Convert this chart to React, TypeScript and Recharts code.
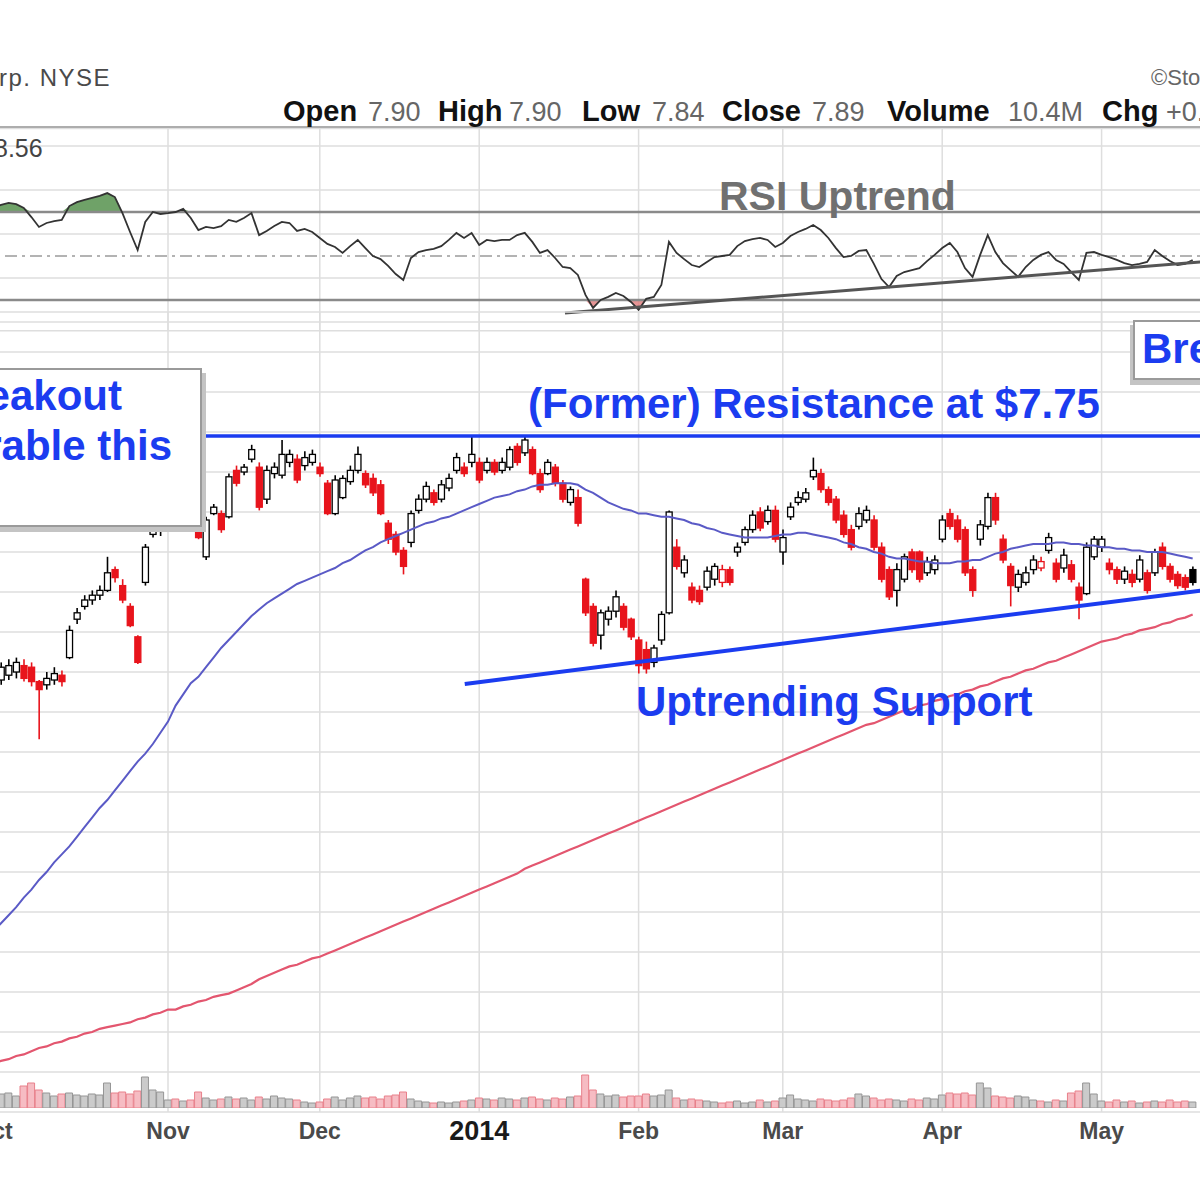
import React from "react";
import {
  ComposedChart,
  Bar,
  Line,
  Area,
  XAxis,
  YAxis,
  CartesianGrid,
  ReferenceLine,
  Cell,
} from "recharts";

// trading days, Oct 1 2013 .. May 19 2014 (index = day number)
const MONTH_TICKS = [0, 23, 43, 64, 85, 104, 125, 146];
const MONTH_LABELS = ["Oct", "Nov", "Dec", "2014", "Feb", "Mar", "Apr", "May"];
const PRICE_GRID = [3.75, 4, 4.25, 4.5, 4.75, 5, 5.25, 5.5, 5.75, 6, 6.25, 6.5, 6.75, 7, 7.25, 7.5, 7.75, 8, 8.25];
const RSI_GRID = [20, 40, 60, 80, 90, 100];

const OPEN = [
  6.19, 6.2, 6.23, 6.25, 6.29, 6.28, 6.19, 6.17, 6.2, 6.23,
  6.34, 6.58, 6.66, 6.7, 6.73, 6.76, 6.89, 6.79, 6.66, 6.47,
  6.81, 7.11, 7.13, 7.17, 7.26, 7.23, 7.21, 7.14, 6.97, 7.24,
  7.24, 7.22, 7.51, 7.5, 7.58, 7.53, 7.33, 7.49, 7.48, 7.56,
  7.58, 7.54, 7.56, 7.53, 7.43, 7.24, 7.34, 7.44, 7.51, 7.49,
  7.46, 7.42, 7.18, 7.11, 7.01, 7.06, 7.26, 7.33, 7.37, 7.33,
  7.4, 7.51, 7.53, 7.56, 7.56, 7.51, 7.56, 7.51, 7.53, 7.66,
  7.62, 7.64, 7.49, 7.49, 7.53, 7.43, 7.31, 7.34, 6.83, 6.66,
  6.48, 6.58, 6.63, 6.66, 6.58, 6.45, 6.39, 6.31, 6.45, 6.62,
  7.03, 6.87, 6.78, 6.76, 6.78, 6.83, 6.81, 6.89, 7.0, 7.06,
  7.14, 7.25, 7.19, 7.26, 7.0, 7.22, 7.31, 7.33, 7.47, 7.49,
  7.39, 7.33, 7.23, 7.14, 7.16, 7.2, 7.2, 7.03, 6.89, 6.76,
  6.83, 7.0, 7.0, 6.87, 6.89, 7.08, 7.24, 7.2, 7.14, 6.89,
  7.08, 7.16, 7.34, 7.08, 6.91, 6.78, 6.81, 6.89, 6.9, 7.01,
  6.93, 6.9, 6.92, 6.78, 6.74, 6.97, 7.03, 6.93, 6.89, 6.83,
  6.86, 6.83, 6.87, 6.87, 7.03, 6.91, 6.86, 6.84, 6.89,
];
const HIGH = [
  6.29, 6.31, 6.33, 6.34, 6.33, 6.31, 6.2, 6.25, 6.28, 6.26,
  6.54, 6.65, 6.73, 6.76, 6.79, 6.97, 6.91, 6.83, 6.68, 6.48,
  7.05, 7.19, 7.2, 7.26, 7.29, 7.33, 7.24, 7.16, 7.22, 7.3,
  7.26, 7.49, 7.54, 7.55, 7.67, 7.56, 7.54, 7.56, 7.7, 7.64,
  7.61, 7.63, 7.64, 7.56, 7.45, 7.48, 7.48, 7.54, 7.66, 7.51,
  7.49, 7.45, 7.2, 7.13, 7.03, 7.26, 7.36, 7.44, 7.39, 7.45,
  7.49, 7.62, 7.56, 7.72, 7.59, 7.59, 7.58, 7.59, 7.66, 7.68,
  7.73, 7.66, 7.52, 7.58, 7.55, 7.45, 7.41, 7.39, 6.84, 6.68,
  6.64, 6.66, 6.76, 6.68, 6.59, 6.47, 6.44, 6.42, 6.63, 7.26,
  7.08, 6.98, 6.81, 6.79, 6.91, 6.93, 6.92, 6.91, 7.06, 7.16,
  7.26, 7.28, 7.29, 7.29, 7.14, 7.31, 7.38, 7.4, 7.59, 7.52,
  7.41, 7.35, 7.26, 7.17, 7.28, 7.29, 7.23, 7.06, 6.91, 6.93,
  6.99, 7.02, 7.01, 6.97, 6.98, 7.23, 7.27, 7.23, 7.16, 6.91,
  7.2, 7.37, 7.37, 7.11, 6.93, 6.89, 6.91, 6.98, 6.97, 7.12,
  6.96, 7.02, 6.95, 6.81, 7.06, 7.1, 7.1, 6.96, 6.91, 6.91,
  6.89, 6.98, 6.89, 7.02, 7.06, 6.93, 6.88, 6.86, 6.91,
];
const LOW = [
  6.15, 6.17, 6.2, 6.21, 6.19, 6.16, 5.83, 6.14, 6.17, 6.16,
  6.33, 6.55, 6.64, 6.67, 6.7, 6.75, 6.81, 6.68, 6.53, 6.3,
  6.79, 7.09, 7.1, 7.14, 7.16, 7.2, 7.13, 7.08, 6.95, 7.23,
  7.12, 7.21, 7.41, 7.48, 7.56, 7.26, 7.3, 7.46, 7.46, 7.53,
  7.43, 7.51, 7.54, 7.47, 7.23, 7.23, 7.33, 7.42, 7.49, 7.4,
  7.35, 7.23, 7.05, 6.98, 6.86, 7.03, 7.24, 7.31, 7.29, 7.31,
  7.38, 7.49, 7.47, 7.53, 7.43, 7.49, 7.48, 7.49, 7.51, 7.54,
  7.6, 7.48, 7.37, 7.48, 7.41, 7.31, 7.29, 7.16, 6.6, 6.41,
  6.39, 6.54, 6.59, 6.51, 6.45, 6.24, 6.24, 6.28, 6.42, 6.61,
  6.89, 6.84, 6.68, 6.67, 6.76, 6.79, 6.78, 6.79, 6.97, 7.04,
  7.12, 7.13, 7.17, 7.06, 6.92, 7.2, 7.29, 7.31, 7.45, 7.37,
  7.29, 7.18, 7.09, 7.01, 7.14, 7.18, 7.01, 6.81, 6.7, 6.66,
  6.81, 6.87, 6.81, 6.85, 6.86, 7.06, 7.14, 7.06, 6.85, 6.72,
  7.04, 7.14, 7.17, 6.93, 6.66, 6.75, 6.79, 6.86, 6.88, 6.99,
  6.81, 6.87, 6.81, 6.58, 6.73, 6.95, 7.0, 6.86, 6.8, 6.8,
  6.78, 6.81, 6.74, 6.85, 6.89, 6.81, 6.77, 6.76, 6.79,
];
const CLOSE = [
  6.25, 6.28, 6.29, 6.31, 6.21, 6.19, 6.14, 6.21, 6.24, 6.19,
  6.51, 6.62, 6.7, 6.73, 6.76, 6.87, 6.84, 6.7, 6.54, 6.31,
  7.03, 7.16, 7.18, 7.23, 7.19, 7.29, 7.15, 7.09, 7.2, 7.28,
  7.14, 7.47, 7.43, 7.53, 7.64, 7.28, 7.51, 7.53, 7.61, 7.61,
  7.45, 7.59, 7.61, 7.49, 7.24, 7.45, 7.46, 7.51, 7.61, 7.42,
  7.37, 7.24, 7.08, 7.0, 6.91, 7.24, 7.33, 7.41, 7.31, 7.42,
  7.46, 7.59, 7.49, 7.61, 7.45, 7.56, 7.5, 7.56, 7.64, 7.56,
  7.7, 7.49, 7.39, 7.56, 7.43, 7.33, 7.39, 7.18, 6.62, 6.43,
  6.62, 6.63, 6.72, 6.53, 6.47, 6.29, 6.27, 6.4, 6.61, 7.25,
  6.91, 6.95, 6.7, 6.69, 6.88, 6.91, 6.89, 6.81, 7.03, 7.14,
  7.23, 7.15, 7.26, 7.08, 7.09, 7.28, 7.34, 7.37, 7.51, 7.39,
  7.31, 7.2, 7.11, 7.03, 7.24, 7.26, 7.03, 6.83, 6.72, 6.89,
  6.97, 6.89, 6.83, 6.94, 6.95, 7.2, 7.16, 7.08, 6.87, 6.76,
  7.17, 7.34, 7.2, 6.95, 6.79, 6.86, 6.87, 6.95, 6.94, 7.09,
  6.83, 6.98, 6.83, 6.7, 7.03, 7.08, 7.08, 6.89, 6.83, 6.88,
  6.81, 6.95, 6.76, 7.0, 6.91, 6.83, 6.79, 6.78, 6.81,
];
const MA50 = [
  4.63, 4.68, 4.73, 4.78, 4.84, 4.89, 4.95, 5.0, 5.06, 5.11,
  5.16, 5.22, 5.28, 5.34, 5.4, 5.45, 5.51, 5.57, 5.63, 5.69,
  5.74, 5.8, 5.87, 5.94, 6.04, 6.11, 6.18, 6.22, 6.28, 6.34,
  6.4, 6.45, 6.5, 6.55, 6.6, 6.64, 6.68, 6.71, 6.74, 6.77,
  6.8, 6.82, 6.84, 6.86, 6.88, 6.9, 6.93, 6.95, 6.98, 7.01,
  7.03, 7.06, 7.08, 7.1, 7.12, 7.14, 7.16, 7.18, 7.19, 7.21,
  7.22, 7.24, 7.26, 7.28, 7.3, 7.32, 7.34, 7.35, 7.36, 7.38,
  7.39, 7.41, 7.42, 7.42, 7.43, 7.43, 7.43, 7.42, 7.39, 7.37,
  7.34, 7.31, 7.29, 7.27, 7.26, 7.24, 7.24, 7.23, 7.22, 7.22,
  7.21, 7.2, 7.18, 7.17, 7.15, 7.14, 7.12, 7.11, 7.1, 7.09,
  7.09, 7.09, 7.09, 7.1, 7.11, 7.11, 7.12, 7.12, 7.11, 7.1,
  7.09, 7.08, 7.06, 7.05, 7.03, 7.02, 7.0, 6.99, 6.97, 6.96,
  6.96, 6.95, 6.94, 6.94, 6.93, 6.93, 6.93, 6.94, 6.94, 6.95,
  6.95, 6.97, 6.99, 7.0, 7.02, 7.03, 7.04, 7.05, 7.05, 7.05,
  7.06, 7.06, 7.05, 7.05, 7.04, 7.04, 7.03, 7.03, 7.02, 7.02,
  7.01, 7.01, 7.0, 7.0, 7.0, 6.99, 6.98, 6.97, 6.96,
];
const MA200 = [
  3.8, 3.82, 3.83, 3.85, 3.86, 3.88, 3.9, 3.91, 3.93, 3.94,
  3.96, 3.97, 3.99, 4.0, 4.02, 4.03, 4.04, 4.05, 4.06, 4.08,
  4.09, 4.11, 4.12, 4.14, 4.14, 4.16, 4.17, 4.19, 4.2, 4.22,
  4.23, 4.24, 4.26, 4.28, 4.3, 4.33, 4.35, 4.37, 4.39, 4.41,
  4.42, 4.44, 4.46, 4.47, 4.49, 4.51, 4.53, 4.55, 4.57, 4.59,
  4.61, 4.63, 4.65, 4.67, 4.69, 4.71, 4.73, 4.75, 4.77, 4.79,
  4.81, 4.83, 4.85, 4.87, 4.89, 4.91, 4.93, 4.95, 4.97, 4.99,
  5.02, 5.04, 5.06, 5.08, 5.1, 5.12, 5.14, 5.16, 5.18, 5.2,
  5.22, 5.24, 5.26, 5.28, 5.3, 5.32, 5.34, 5.36, 5.38, 5.4,
  5.42, 5.44, 5.46, 5.48, 5.5, 5.52, 5.54, 5.56, 5.58, 5.6,
  5.62, 5.64, 5.66, 5.68, 5.7, 5.72, 5.74, 5.76, 5.78, 5.8,
  5.82, 5.84, 5.86, 5.88, 5.9, 5.92, 5.93, 5.95, 5.97, 5.99,
  6.01, 6.02, 6.04, 6.05, 6.07, 6.08, 6.1, 6.11, 6.13, 6.14,
  6.16, 6.17, 6.19, 6.21, 6.22, 6.24, 6.26, 6.27, 6.29, 6.31,
  6.32, 6.34, 6.36, 6.38, 6.4, 6.42, 6.44, 6.45, 6.46, 6.48,
  6.49, 6.51, 6.52, 6.53, 6.55, 6.56, 6.58, 6.59, 6.61,
];
const RSI = [
  72.3, 73.2, 74.1, 73.6, 71.8, 67.7, 63.2, 65.0, 65.9, 66.4,
  72.7, 74.5, 75.5, 76.4, 77.3, 78.6, 76.8, 69.5, 60.9, 52.7,
  65.5, 70.0, 69.1, 69.5, 70.0, 71.4, 67.3, 61.8, 63.2, 62.7,
  63.6, 66.4, 65.5, 67.3, 69.5, 59.5, 61.4, 63.6, 65.5, 65.0,
  61.4, 62.3, 60.9, 58.2, 55.5, 54.1, 51.4, 54.5, 57.3, 53.6,
  50.0, 48.6, 45.5, 41.8, 39.1, 49.1, 51.8, 52.7, 53.2, 54.5,
  57.3, 60.5, 58.2, 60.5, 55.0, 57.3, 56.8, 57.3, 57.3, 59.5,
  60.5, 56.4, 51.4, 52.7, 49.1, 45.0, 44.5, 41.4, 32.3, 26.4,
  30.0, 31.4, 33.2, 31.8, 29.1, 25.5, 30.5, 31.4, 36.8, 56.4,
  51.4, 48.6, 45.9, 45.0, 47.3, 49.5, 50.0, 50.5, 54.5, 56.8,
  57.7, 58.2, 57.3, 54.1, 55.9, 59.1, 60.9, 62.3, 64.1, 61.8,
  58.2, 53.6, 49.5, 50.0, 52.3, 52.7, 46.4, 39.5, 35.9, 40.9,
  42.7, 43.6, 44.5, 47.7, 50.5, 53.6, 55.9, 51.8, 44.5, 40.5,
  50.5, 59.5, 51.8, 46.8, 43.6, 40.5, 45.0, 48.2, 50.5, 51.8,
  48.2, 46.4, 42.7, 39.1, 51.4, 51.8, 50.5, 49.5, 48.2, 46.8,
  45.9, 46.4, 47.3, 52.7, 50.0, 47.7, 45.9, 46.4, 48.2,
];
// millions of shares
const VOLUME = [
  15, 14, 15, 12, 22, 25, 18, 15, 12, 14,
  15, 13, 12, 14, 13, 25, 15, 16, 14, 17,
  31, 18, 16, 8, 9, 7, 8, 16, 10, 8,
  9, 11, 9, 10, 8, 11, 9, 12, 10, 9,
  8, 6, 5, 6, 9, 11, 8, 10, 12, 10,
  11, 9, 12, 13, 16, 9, 7, 6, 5, 6,
  5, 6, 7, 8, 10, 9, 8, 10, 9, 8,
  10, 11, 9, 8, 10, 9, 11, 12, 33, 18,
  14, 12, 13, 11, 12, 12, 14, 12, 13, 18,
  10, 8, 9, 8, 7, 6, 5, 6, 7, 5,
  6, 8, 6, 7, 10, 13, 9, 8, 7, 9,
  8, 7, 8, 10, 14, 12, 10, 8, 9, 8,
  7, 9, 8, 10, 9, 13, 15, 14, 15, 13,
  25, 20, 12, 11, 10, 12, 11, 8, 7, 6,
  8, 7, 15, 17, 25, 14, 7, 6, 8, 6,
  7, 5, 6, 7, 6, 8, 6, 7, 6,
];

// drawn annotations (day index, value)
const RESISTANCE = 7.725;
const SUPPORT = [{ x: 62.1, y: 6.175 }, { x: 161, y: 6.77 }];
const RSI_TREND = [{ x: 75.3, y: 24.1 }, { x: 161, y: 47.8 }];

const rows = OPEN.map((open, i) => ({
  i,
  open,
  high: HIGH[i],
  low: LOW[i],
  close: CLOSE[i],
  ma50: MA50[i],
  ma200: MA200[i],
  rsi: RSI[i],
  vol: VOLUME[i],
  up: i === 0 ? CLOSE[i] >= open : CLOSE[i] >= CLOSE[i - 1],
}));

const W = 1240;
const H = 1200;
const X_DOMAIN: [number, number] = [-1.77, 161.6];
const FONT = '"Liberation Sans", Arial, Helvetica, sans-serif';
const BLUE = "#1b3cf0";
const RED = "#e8141c";

function Candle(props: any) {
  const { x, y, width, height, payload } = props;
  if (x == null || y == null || !payload) return null;
  const top = Math.min(y, y + height);
  const h = Math.abs(height);
  const range = payload.high - payload.low || 1;
  const py = (v: number) => top + ((payload.high - v) / range) * h;
  const color = payload.up ? "#000" : RED;
  const cx = x + width / 2;
  const yo = py(payload.open);
  const yc = py(payload.close);
  const hollow = payload.close > payload.open;
  return (
    <g>
      <line x1={cx} x2={cx} y1={top} y2={top + h} stroke={color} strokeWidth={1.6} />
      <rect
        x={x}
        y={Math.min(yo, yc)}
        width={width}
        height={Math.max(2, Math.abs(yo - yc))}
        fill={hollow ? "#fff" : color}
        stroke={color}
        strokeWidth={1.3}
      />
    </g>
  );
}

function MonthTick(props: any) {
  const { x, y, payload } = props;
  const label = MONTH_LABELS[MONTH_TICKS.indexOf(payload.value)];
  const strong = label === "2014";
  return (
    <text
      x={x}
      y={y + 19}
      textAnchor="middle"
      dominantBaseline="central"
      fontFamily={FONT}
      fontWeight="bold"
      fontSize={strong ? 27 : 23}
      fill={strong ? "#1a1a1a" : "#4a4a4a"}
    >
      {label}
    </text>
  );
}

function RsiPanel() {
  return (
    <ComposedChart width={W} height={H} data={rows} margin={{ top: 128.4, right: 0, bottom: 869.2, left: 0 }}>
      <CartesianGrid stroke="#dedede" strokeWidth={1.5} />
      <XAxis type="number" dataKey="i" domain={X_DOMAIN} allowDataOverflow ticks={MONTH_TICKS} hide />
      <YAxis type="number" domain={[16, 108]} allowDataOverflow ticks={RSI_GRID} hide />
      <ReferenceLine y={50} stroke="#9a9a9a" strokeWidth={1.5} strokeDasharray="12 5 3 5" />
      <Area
        type="linear"
        dataKey={(d: any) => [70, Math.max(70, d.rsi)]}
        stroke="none"
        fill="#5f9858"
        fillOpacity={0.9}
        isAnimationActive={false}
      />
      <Area
        type="linear"
        dataKey={(d: any) => [Math.min(30, d.rsi), 30]}
        stroke="none"
        fill="#e07a7a"
        fillOpacity={0.8}
        isAnimationActive={false}
      />
      <ReferenceLine y={70} stroke="#8a8a8a" strokeWidth={2.5} />
      <ReferenceLine y={30} stroke="#8a8a8a" strokeWidth={2.5} />
      <Line type="linear" dataKey="rsi" stroke="#333" strokeWidth={1.8} dot={false} isAnimationActive={false} />
      <ReferenceLine segment={RSI_TREND} stroke="#555" strokeWidth={3} />
    </ComposedChart>
  );
}

function PricePanel() {
  return (
    <ComposedChart width={W} height={H} data={rows} margin={{ top: 312, right: 0, bottom: 58, left: 0 }}>
      <CartesianGrid stroke="#dedede" strokeWidth={1.5} />
      <XAxis
        type="number"
        dataKey="i"
        domain={X_DOMAIN}
        allowDataOverflow
        ticks={MONTH_TICKS}
        interval={0}
        height={30}
        tickSize={0}
        tickMargin={0}
        axisLine={false}
        tick={<MonthTick />}
      />
      <YAxis type="number" domain={[3.5, 8.5]} allowDataOverflow ticks={PRICE_GRID} hide />
      <Line type="linear" dataKey="ma200" stroke="#e3566f" strokeWidth={2.2} dot={false} isAnimationActive={false} />
      <Line type="linear" dataKey="ma50" stroke="#5a5ac6" strokeWidth={2} dot={false} isAnimationActive={false} />
      <Bar
        dataKey={(d: any) => [d.low, d.high]}
        barSize={6}
        shape={(p: any) => <Candle {...p} />}
        isAnimationActive={false}
      />
      <ReferenceLine y={RESISTANCE} stroke={BLUE} strokeWidth={3.5} />
      <ReferenceLine segment={SUPPORT} stroke={BLUE} strokeWidth={4} />
    </ComposedChart>
  );
}

function VolumePanel() {
  return (
    <ComposedChart width={W} height={H} data={rows} margin={{ top: 1008, right: 0, bottom: 92, left: 0 }}>
      <XAxis type="number" dataKey="i" domain={X_DOMAIN} allowDataOverflow hide />
      <YAxis type="number" domain={[0, 100]} allowDataOverflow hide />
      <Bar dataKey="vol" barSize={7} isAnimationActive={false}>
        {rows.map((r) => (
          <Cell
            key={`v-${r.i}`}
            fill={r.up ? "#cbcbcb" : "#f6bcc3"}
            stroke={r.up ? "#959595" : "#e8808b"}
            strokeWidth={1}
          />
        ))}
      </Bar>
    </ComposedChart>
  );
}

function Txt(props: {
  x: number;
  y: number;
  size: number;
  bold?: boolean;
  color: string;
  right?: boolean;
  spacing?: number;
  children: React.ReactNode;
}) {
  const { x, y, size, bold, color, right, spacing, children } = props;
  const style: React.CSSProperties = {
    position: "absolute",
    top: y - size / 2,
    lineHeight: `${size}px`,
    fontSize: size,
    fontWeight: bold ? 700 : 400,
    color,
    whiteSpace: "nowrap",
    letterSpacing: spacing,
  };
  if (right) style.right = 1200 - x;
  else style.left = x;
  return <div style={style}>{children}</div>;
}

const layer: React.CSSProperties = { position: "absolute", left: 0, top: 0 };

export default function App() {
  return (
    <div
      style={{
        position: "absolute",
        left: 0,
        top: 0,
        width: 1200,
        height: 1200,
        overflow: "hidden",
        background: "#fff",
        fontFamily: FONT,
      }}
    >
      <div style={{ position: "absolute", left: -20, top: 0, width: W, height: H }}>
        <div style={layer}>
          <RsiPanel />
        </div>
        <div style={layer}>
          <PricePanel />
        </div>
        <div style={layer}>
          <VolumePanel />
        </div>
      </div>

      <div style={{ position: "absolute", left: 0, top: 126, width: 1200, height: 2, background: "#adadad" }} />

      <Txt x={-1} y={78} size={24} color="#4a4a4a" spacing={1.5}>rp. NYSE</Txt>
      <Txt x={1151} y={78} size={22} color="#666">©StockCharts.com</Txt>

      <Txt x={283} y={111} size={29} bold color="#111">Open</Txt>
      <Txt x={368} y={112} size={27} color="#666">7.90</Txt>
      <Txt x={438} y={111} size={29} bold color="#111">High</Txt>
      <Txt x={509} y={112} size={27} color="#666">7.90</Txt>
      <Txt x={582} y={111} size={29} bold color="#111">Low</Txt>
      <Txt x={652} y={112} size={27} color="#666">7.84</Txt>
      <Txt x={722} y={111} size={29} bold color="#111">Close</Txt>
      <Txt x={812} y={112} size={27} color="#666">7.89</Txt>
      <Txt x={887} y={111} size={29} bold color="#111">Volume</Txt>
      <Txt x={1008} y={112} size={27} color="#666">10.4M</Txt>
      <Txt x={1102} y={111} size={29} bold color="#111">Chg</Txt>
      <Txt x={1166} y={112} size={27} color="#666">+0.01 (+0.13%)</Txt>

      <Txt x={-6} y={148} size={25} color="#444">8.56</Txt>
      <Txt x={719} y={196} size={41} bold color="#707070">RSI Uptrend</Txt>

      <div
        style={{
          position: "absolute",
          left: -6,
          top: 368,
          width: 204,
          height: 155,
          border: "2px solid #9a9a9a",
          background: "#fff",
          boxShadow: "4px 5px 0 #c4c4c4",
        }}
      />
      <Txt x={122} y={396} size={42} bold color={BLUE} right>Breakout</Txt>
      <Txt x={172} y={446} size={42} bold color={BLUE} right>Favorable this</Txt>

      <div
        style={{
          position: "absolute",
          left: 1133,
          top: 320,
          width: 120,
          height: 56,
          border: "2px solid #9a9a9a",
          background: "#fff",
          boxShadow: "-3px 5px 0 #c4c4c4",
        }}
      />
      <Txt x={1142} y={349} size={42} bold color={BLUE}>Breakout</Txt>

      <Txt x={528} y={404} size={42} bold color={BLUE}>(Former) Resistance at $7.75</Txt>
      <Txt x={636} y={702} size={42} bold color={BLUE}>Uptrending Support</Txt>
    </div>
  );
}
